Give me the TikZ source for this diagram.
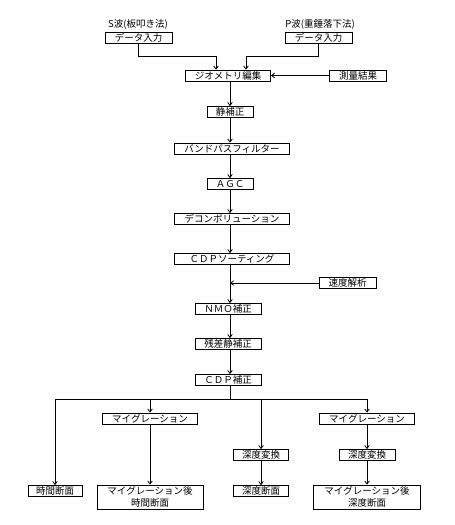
\documentclass[tikz,border=0pt]{standalone}
\usepackage{fontspec}
\setmainfont{Noto Sans CJK JP}
\usetikzlibrary{arrows.meta}
\tikzset{
  box/.style={draw,line width=0.8pt,inner sep=0.5pt,minimum height=11pt,
    font=\fontsize{9.5}{11.5}\selectfont,align=center},
  arr/.style={line width=0.8pt,-{Straight Barb[length=3pt,width=4.5pt]}},
  lin/.style={line width=0.8pt}
}
\begin{document}
\begin{tikzpicture}[x=1pt,y=-1pt]
  \useasboundingbox (0,0) rectangle (455,525);
  % inputs
  \node[font=\fontsize{9.5}{11}\selectfont] (stitle) at (138,24) {S波(板叩き法)};
  \node[font=\fontsize{9.5}{11}\selectfont] (ptitle) at (320,24) {P波(重錘落下法)};
  \node[box,minimum width=67pt] (sdata) at (138.5,38) {データ入力};
  \node[box,minimum width=67pt] (pdata) at (318.5,38) {データ入力};
  % main flow
  \node[box,minimum width=85pt] (geom) at (228,75.5) {ジオメトリ編集};
  \node[box,minimum width=57pt] (survey) at (358,75.5) {測量結果};
  \node[box,minimum width=46pt] (seiho) at (230,112) {静補正};
  \node[box,minimum width=115pt] (bpf) at (232,148.5) {バンドパスフィルター};
  \node[box,minimum width=46pt] (agc) at (230,184) {ＡＧＣ};
  \node[box,minimum width=115pt] (decon) at (232,219) {デコンボリューション};
  \node[box,minimum width=115pt] (cdpsort) at (232,259) {ＣＤＰソーティング};
  \node[box,minimum width=57pt] (velo) at (347.5,283) {速度解析};
  \node[box,minimum width=66pt] (nmo) at (228,309) {ＮＭＯ補正};
  \node[box,minimum width=66pt] (resid) at (228,344) {残差静補正};
  \node[box,minimum width=66pt] (stack) at (228,380) {ＣＤＰ補正};
  % outputs
  \node[box,minimum width=95pt] (migt) at (150,418.5) {マイグレーション};
  \node[box,minimum width=95pt] (migd) at (367,418.5) {マイグレーション};
  \node[box,minimum width=55pt] (convd) at (261,455) {深度変換};
  \node[box,minimum width=56pt] (convm) at (367,455) {深度変換};
  \node[box,minimum width=54pt] (tsec) at (55,491) {時間断面};
  \node[box,minimum width=106pt,minimum height=24pt] (mtsec) at (150,497) {マイグレーション後\\時間断面};
  \node[box,minimum width=55pt] (dsec) at (261,491) {深度断面};
  \node[box,minimum width=107pt,minimum height=24pt] (mdsec) at (367,497) {マイグレーション後\\深度断面};
  % junction points
  \coordinate (sjoin) at (216,56);
  \coordinate (pjoin) at (246,56);
  \coordinate (vjoin) at (230,283);
  \coordinate (split) at (230,399);
  % connectors
  \draw[arr] (sdata.south) |- (sjoin) -- (sjoin |- geom.north);
  \draw[arr] (pdata.south) |- (pjoin) -- (pjoin |- geom.north);
  \draw[arr] (survey) -- (geom);
  \draw[arr] (geom.south -| seiho) -- (seiho);
  \draw[arr] (seiho.south) -- (seiho.south |- bpf.north);
  \draw[arr] (seiho.south |- bpf.south) -- (agc);
  \draw[arr] (agc.south) -- (agc.south |- decon.north);
  \draw[arr] (agc.south |- decon.south) -- (agc.south |- cdpsort.north);
  \draw[lin] (agc.south |- cdpsort.south) -- (vjoin);
  \draw[arr] (velo) -- (vjoin);
  \draw[arr] (vjoin) -- (vjoin |- nmo.north);
  \draw[arr] (vjoin |- nmo.south) -- (vjoin |- resid.north);
  \draw[arr] (vjoin |- resid.south) -- (vjoin |- stack.north);
  \draw[lin] (vjoin |- stack.south) -- (split);
  \draw[arr] (split) -| (tsec);
  \draw[arr] (split) -| (migt);
  \draw[arr] (split) -| (convd);
  \draw[arr] (split) -| (migd);
  \draw[arr] (migt) -- (mtsec);
  \draw[arr] (convd) -- (dsec);
  \draw[arr] (migd) -- (convm);
  \draw[arr] (convm) -- (mdsec);
\end{tikzpicture}
\end{document}
